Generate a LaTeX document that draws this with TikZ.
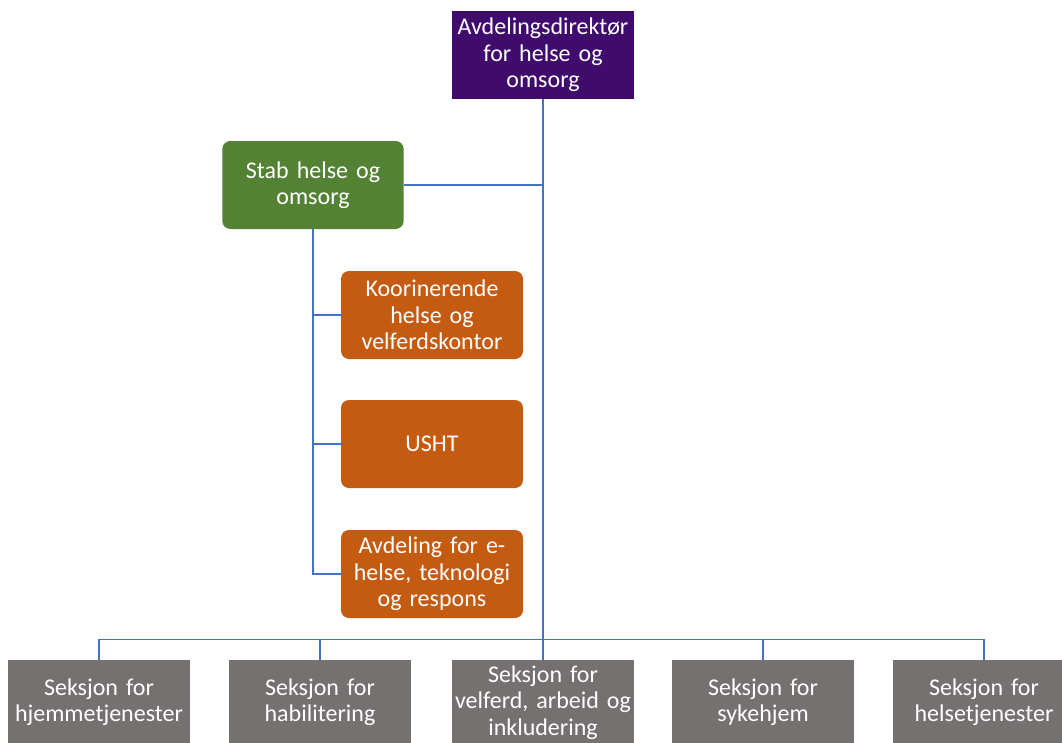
\documentclass[tikz,border=0pt]{standalone}
\usepackage{fontspec}
\setmainfont{Carlito}
\definecolor{dirpurple}{RGB}{63,12,110}
\definecolor{stabgreen}{RGB}{84,130,53}
\definecolor{unitorange}{RGB}{197,90,17}
\definecolor{secgray}{RGB}{118,113,113}
\definecolor{linkblue}{RGB}{68,114,196}
\begin{document}
\begin{tikzpicture}[x=0.75pt, y=-0.75pt,
  box/.style={text=white, align=center, inner sep=2pt,
    font=\fontsize{18}{19.8}\selectfont,
    minimum width=133.5pt, minimum height=66pt, text width=132pt},
  dirbox/.style={box, fill=dirpurple},
  stabbox/.style={box, fill=stabgreen, rounded corners=6pt},
  unitbox/.style={box, fill=unitorange, rounded corners=6pt, minimum width=136.5pt},
  secbox/.style={box, fill=secgray, minimum height=64pt},
  link/.style={draw=linkblue, line width=1.1pt}]
  \fill[white] (0,0) rectangle (1062,742);
  \useasboundingbox (0,0) rectangle (1062,742);

  % top
  \node[dirbox] (dir) at (543,55) {Avdelingsdirektør\\for helse og\\omsorg};

  % staff
  \node[stabbox] (stab) at (313,185) {Stab helse og\\omsorg};
  \node[unitbox] (koor) at (432,315) {Koorinerende\\helse og\\velferdskontor};
  \node[unitbox] (usht) at (432,444) {USHT};
  \node[unitbox] (ehelse) at (432,574) {Avdeling for e-\\helse, teknologi\\og respons};

  % sections
  \node[secbox] (hjem) at (99,702.5) {Seksjon for\\hjemmetjenester};
  \node[secbox] (habil) at (320,702.5) {Seksjon for\\habilitering};
  \node[secbox] (velf) at (543,702.5) {Seksjon for\\velferd, arbeid og\\inkludering};
  \node[secbox] (syke) at (763,702.5) {Seksjon for\\sykehjem};
  \node[secbox] (helse) at (984,702.5) {Seksjon for\\helsetjenester};

  % connectors
  \draw[link] (dir.south) -- (velf.north);
  \draw[link] (stab.east) -- (stab.east -| dir.south);
  \draw[link] (stab.south) |- (ehelse.west);
  \draw[link] (stab.south |- koor.west) -- (koor.west);
  \draw[link] (stab.south |- usht.west) -- (usht.west);
  \draw[link] (hjem.north) -- ++(0,-20) -| (helse.north);
  \draw[link] (habil.north) -- ++(0,-20);
  \draw[link] (syke.north) -- ++(0,-20);
\end{tikzpicture}
\end{document}
